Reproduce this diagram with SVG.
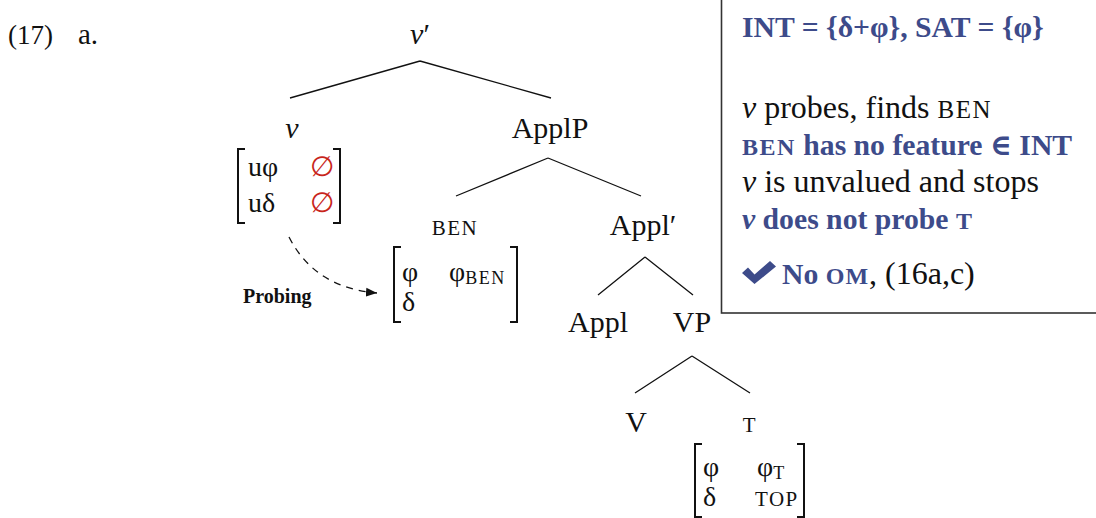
<svg xmlns="http://www.w3.org/2000/svg" width="1096" height="518" viewBox="0 0 1096 518">
<style>
text{font-family:"Liberation Serif","DejaVu Serif",serif;font-size:30px;fill:#111}
.c{text-anchor:middle}
.i{font-style:italic}
.b{font-weight:bold}
.blue{fill:#3d4b8a}
.red{fill:#c8251b}
.m{font-size:28px}
.sc{font-size:21px;letter-spacing:1.5px}
.sub{font-size:18px;letter-spacing:1.5px}
.reg{font-size:32px}
.bb{font-size:29.7px;font-weight:bold;fill:#3d4b8a}
.edge{stroke:#111;stroke-width:1.3;fill:none}
.br{stroke:#111;stroke-width:2;fill:none}
</style>
<defs>
<marker id="ah" markerWidth="12" markerHeight="12" refX="11" refY="5" orient="auto" markerUnits="userSpaceOnUse">
<path d="M0,0.5 L11,5 L0,9.5 Z" fill="#111"/>
</marker>
</defs>
<rect x="0" y="0" width="1096" height="518" fill="#fff"/>
<g id="label">
<text x="8" y="44" style="font-size:27px">(17)</text>
<text x="78" y="44" style="font-size:29px">a.</text>
</g>
<g id="connectors">
<path class="edge" d="M420,61 L290,98 M420,61 L551,98"/>
<path class="edge" d="M548,158 L456,196 M548,158 L641,196"/>
<path class="edge" d="M645,257 L598,295 M645,257 L693,295"/>
<path class="edge" d="M692,356 L635,393 M692,356 L750,393"/>
<path class="edge" d="M289,237 Q315,288 377,293" stroke-dasharray="7,6" marker-end="url(#ah)"/>
</g>
<g id="node-vbar"><text class="c" x="420" y="44"><tspan class="i">v</tspan>′</text></g>
<g id="node-v">
<text class="c i" x="292" y="138">v</text>
<path class="br" d="M245,149 H238 V223 H245 M333,149 H340 V223 H333"/>
<text x="248" y="176" class="m">uφ</text>
<text x="310" y="176" class="m red">∅</text>
<text x="248" y="212" class="m">uδ</text>
<text x="310" y="212" class="m red">∅</text>
</g>
<g id="node-applp"><text class="c" x="550" y="138">ApplP</text></g>
<g id="node-ben">
<text class="c sc" x="455" y="235">BEN</text>
<path class="br" d="M401,247 H394 V322 H401 M510,247 H517 V322 H510"/>
<text x="402" y="281" class="m">φ</text>
<text x="449" y="281" class="m">φ<tspan class="sub" dy="3">BEN</tspan></text>
<text x="402" y="311" class="m">δ</text>
</g>
<g id="node-probing"><text x="243" y="303" class="b" style="font-size:20px">Probing</text></g>
<g id="node-applbar"><text class="c" x="643" y="235">Appl′</text></g>
<g id="node-appl"><text class="c" x="598" y="332">Appl</text></g>
<g id="node-vp"><text class="c" x="692" y="332">VP</text></g>
<g id="node-V"><text class="c" x="636" y="432">V</text></g>
<g id="node-T">
<text class="c sc" x="750" y="432">T</text>
<path class="br" d="M702,444 H695 V517 H702 M797,444 H804 V517 H797"/>
<text x="703" y="476" class="m">φ</text>
<text x="757" y="476" class="m">φ<tspan class="sub" dy="3">T</tspan></text>
<text x="703" y="506" class="m">δ</text>
<text x="755" y="506" class="sc">TOP</text>
</g>
<g id="box">
<rect x="721.5" y="-5" width="400" height="318" fill="none" stroke="#333" stroke-width="1.6"/>
<text x="742" y="37" class="bb">INT = {δ+φ}, SAT = {φ}</text>
<text x="742" y="118" class="reg"><tspan class="i">v</tspan> probes, finds <tspan class="sc" style="font-size:25px">BEN</tspan></text>
<text x="742" y="155" class="bb"><tspan style="font-size:24px;letter-spacing:1.5px">BEN</tspan> has no feature ∈ INT</text>
<text x="742" y="192" class="reg"><tspan class="i">v</tspan> is unvalued and stops</text>
<text x="742" y="229" class="bb"><tspan class="i">v</tspan> does not probe <tspan style="font-size:24px">T</tspan></text>
<path d="M742,273 L748,267.5 L754.5,274.5 L770,261 L776,266.5 L754.5,284 Z" fill="#3d4b8a"/>
<text x="782" y="284" class="reg"><tspan class="bb">No <tspan style="font-size:24px;letter-spacing:1px">OM</tspan></tspan>, (16a,c)</text>
</g>
</svg>
